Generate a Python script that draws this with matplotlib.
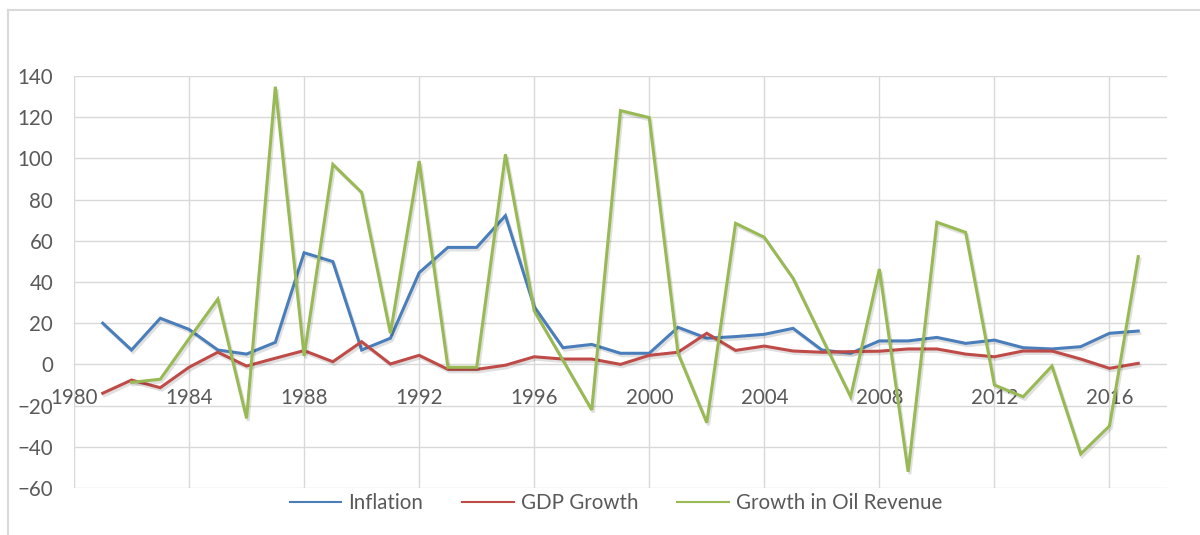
import numpy as np
import matplotlib
matplotlib.use("Agg")
import matplotlib.pyplot as plt
import matplotlib.patheffects as pe
from matplotlib.lines import Line2D

years = list(range(1981, 2018))
inflation = [20.0, 7.0, 22.4, 17.0, 7.0, 5.0, 10.7, 54.2, 49.9, 7.0,
             12.7, 44.5, 56.8, 56.8, 72.2, 28.0, 8.1, 9.7, 5.4, 5.4,
             18.0, 12.7, 13.5, 14.6, 17.5, 7.0, 5.4, 11.4, 11.4, 13.1,
             10.2, 11.8, 8.1, 7.5, 8.6, 15.1, 16.2]
gdp_growth = [-14.0, -7.6, -11.3, -1.4, 5.9, -0.8, 3.0, 6.7, 1.3, 11.0,
              0.2, 4.4, -2.4, -2.4, -0.4, 3.7, 2.6, 2.6, 0.0, 4.4,
              5.9, 15.1, 6.8, 8.9, 6.5, 5.9, 6.2, 6.4, 7.5, 7.5,
              5.0, 3.7, 6.5, 6.5, 2.6, -1.9, 0.5]
oil_growth = [np.nan, -8.7, -7.2, 12.5, 31.7, -26.2, 134.8, 4.1, 97.1, 83.5,
              15.1, 98.7, -1.4, -1.4, 102.0, 26.0, 2.0, -22.1, 123.2, 119.8,
              5.4, -28.3, 68.5, 61.7, 41.8, 13.0, -15.7, 46.3, -52.1, 69.0,
              64.1, -10.0, -15.7, -0.8, -43.5, -29.9, 52.3]
series_names = ["Inflation", "GDP Growth", "Growth in Oil Revenue"]
x_ticks = list(range(1980, 2017, 4))
y_ticks = list(range(-60, 141, 20))

colors = ["#4A7EBB", "#BE4B48", "#98B954"]
plt.rcParams['font.family'] = ['Lato', 'DejaVu Sans']
FS = 14.8

fig = plt.figure(figsize=(12, 5.35), dpi=100)
W, H = 1200, 535
left, right, top, bottom = 74, 1167, 76, 488
ax = fig.add_axes([left / W, 1 - bottom / H, (right - left) / W, (bottom - top) / H])

shadow = [pe.SimpleLineShadow(offset=(1.2, -1.8), alpha=0.12, shadow_color='black'), pe.Normal()]
for vals, name, c in zip([inflation, gdp_growth, oil_growth], series_names, colors):
    ax.plot(years, vals, color=c, lw=2.2, label=name, path_effects=shadow, solid_joinstyle='miter', zorder=3)

ax.set_xlim(1980, 2018)
ax.set_ylim(-60, 140)
ax.set_xticks(x_ticks)
ax.set_yticks(y_ticks)
ax.grid(True, color="#D9D9D9", lw=1.0)
ax.set_axisbelow(True)
for s in ['top', 'right', 'left']:
    ax.spines[s].set_visible(False)
ax.spines['bottom'].set_position(('data', 0))
ax.spines['bottom'].set_visible(False)
ax.tick_params(axis='x', length=0, pad=17, labelsize=FS, labelcolor="#595959")
ax.tick_params(axis='y', length=0, pad=15, labelsize=FS, labelcolor="#595959")

handles = [Line2D([0], [0], color=c, lw=1.5) for c in colors]
leg = fig.legend(handles, series_names, loc='center', bbox_to_anchor=(616 / W, 1 - 503 / H),
                 ncol=3, frameon=False, fontsize=FS, handlelength=2.5, handletextpad=0.35,
                 columnspacing=1.9, labelcolor="#595959")

# chart border (top and left visible)
fig.add_artist(Line2D([8 / W, 1.0], [1 - 10 / H, 1 - 10 / H], color="#D9D9D9", lw=1.5))
fig.add_artist(Line2D([8 / W, 8 / W], [0, 1 - 10 / H], color="#D9D9D9", lw=1.5))

fig.savefig("out.png", dpi=100)
